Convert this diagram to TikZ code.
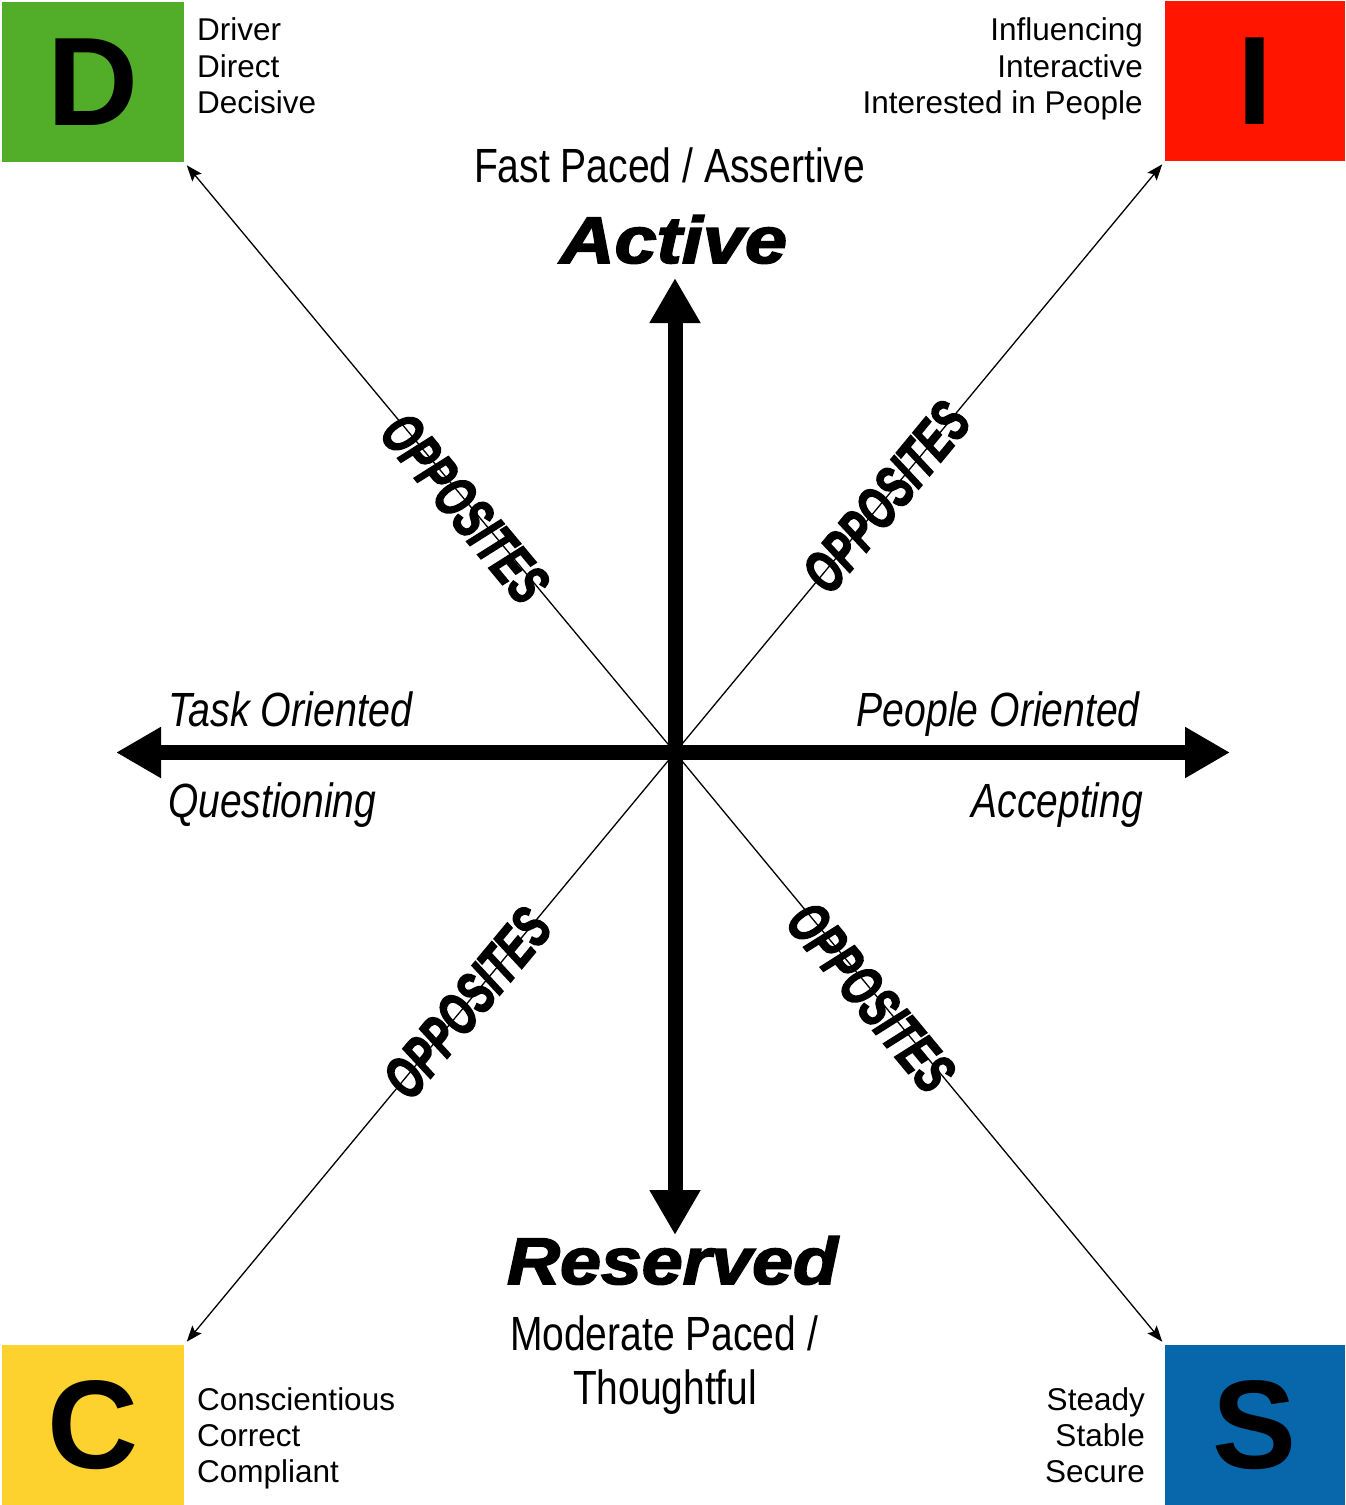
\documentclass[tikz,border=0pt]{standalone}
\usepackage{fontspec}
\setmainfont{Liberation Sans}
\newfontfamily\heavyfont[FakeBold=2.4]{Liberation Sans}
\newfontfamily\oppfont[FakeBold=3.2]{Liberation Sans}
\usepackage{graphicx}
\usetikzlibrary{arrows.meta}
\definecolor{dgreen}{HTML}{52AE29}
\definecolor{ired}{HTML}{FF1500}
\definecolor{cyellow}{HTML}{FDD22F}
\definecolor{sblue}{HTML}{0767AA}
\newcommand{\mysqueeze}[2]{\resizebox{#1}{\height}{#2}}
\begin{document}
\begin{tikzpicture}[x=1pt,y=-1pt,
  discbox/.style={inner sep=0pt, minimum height=160pt, font=\fontsize{126}{126}\selectfont\bfseries},
  wordline/.style={inner sep=0pt, font=\fontsize{31.5}{31.5}\selectfont},
  narrowtxt/.style={inner sep=0pt, font=\fontsize{48}{48}\selectfont},
  heavytxt/.style={inner sep=0pt, font=\fontsize{66}{66}\selectfont\heavyfont\bfseries\itshape},
  opptxt/.style={inner sep=0pt, font=\fontsize{58}{58}\selectfont\oppfont\bfseries\itshape},
  axisarrow/.style={line width=15pt, {Triangle[length=45pt,width=48pt]}-{Triangle[length=45pt,width=48pt]}},
  diagarrow/.style={line width=1.3pt, -{Stealth[length=16pt,width=12pt,inset=3pt]}, shorten >=4pt}
]
\useasboundingbox (0,0) rectangle (1345,1505);

% corner boxes
\node[discbox, minimum width=182pt, fill=dgreen] (D) at (93,82) {D};
\node[discbox, minimum width=180pt, fill=ired] (I) at (1255,81) {I};
\node[discbox, minimum width=182pt, fill=cyellow] (C) at (93,1425) {C};
\node[discbox, minimum width=180pt, fill=sblue] (S) at (1255,1425) {S};

% centre and axis ends
\coordinate (O) at (675,752.5);
\coordinate (top) at (675,278);
\coordinate (bot) at (675,1235);
\coordinate (lft) at (116,752.5);
\coordinate (rgt) at (1230,752.5);

% diagonal arrows
\draw[diagarrow] (O) -- (D.south east);
\draw[diagarrow] (O) -- (I.south west);
\draw[diagarrow] (O) -- (C.north east);
\draw[diagarrow] (O) -- (S.north west);

% axes
\draw[axisarrow] (bot) -- (top);
\draw[axisarrow] (lft) -- (rgt);

% corner word lists
\node[wordline, anchor=base west] (d1) at (197,40.5) {Driver};
\node[wordline, anchor=base west] (d2) at (197,77) {Direct};
\node[wordline, anchor=base west] (d3) at (197,113.5) {Decisive};
\node[wordline, anchor=base east] (i1) at (1143,40.5) {Influencing};
\node[wordline, anchor=base east] (i2) at (1143,77) {Interactive};
\node[wordline, anchor=base east] (i3) at (1143,113.5) {Interested in People};
\node[wordline, anchor=base west] (c1) at (197,1410.5) {Conscientious};
\node[wordline, anchor=base west] (c2) at (197,1446.5) {Correct};
\node[wordline, anchor=base west] (c3) at (197,1482.5) {Compliant};
\node[wordline, anchor=base east] (s1) at (1145,1410.5) {Steady};
\node[wordline, anchor=base east] (s2) at (1145,1446.5) {Stable};
\node[wordline, anchor=base east] (s3) at (1145,1482.5) {Secure};

% axis labels
\node[narrowtxt, anchor=base] (fast) at (669.5,182) {\mysqueeze{391pt}{Fast Paced / Assertive}};
\node[heavytxt, anchor=base] (act) at (673.5,263) {\mysqueeze{227pt}{Active}};
\node[heavytxt, anchor=base] (res) at (672.5,1284) {\mysqueeze{331pt}{Reserved}};
\node[narrowtxt, anchor=base] (mod) at (664,1350) {\mysqueeze{308pt}{Moderate Paced /}};
\node[narrowtxt, anchor=base] (tho) at (665,1404) {\mysqueeze{184pt}{Thoughtful}};
\node[narrowtxt, anchor=base west] (task) at (168,726) {\mysqueeze{244pt}{\itshape Task Oriented}};
\node[narrowtxt, anchor=base west] (ques) at (168,817) {\mysqueeze{208pt}{\itshape Questioning}};
\node[narrowtxt, anchor=base east] (peop) at (1140,726) {\mysqueeze{283pt}{\itshape People Oriented}};
\node[narrowtxt, anchor=base east] (acc) at (1143,817) {\mysqueeze{171pt}{\itshape Accepting}};

% OPPOSITES labels
\node[opptxt, rotate=-50.3] (o1) at (465,508) {\mysqueeze{225pt}{OPPOSITES}};
\node[opptxt, rotate=50.5] (o2) at (886,497) {\mysqueeze{225pt}{OPPOSITES}};
\node[opptxt, rotate=50.3] (o3) at (467,1003) {\mysqueeze{225pt}{OPPOSITES}};
\node[opptxt, rotate=-50.3] (o4) at (871,997) {\mysqueeze{225pt}{OPPOSITES}};
\end{tikzpicture}
\end{document}
